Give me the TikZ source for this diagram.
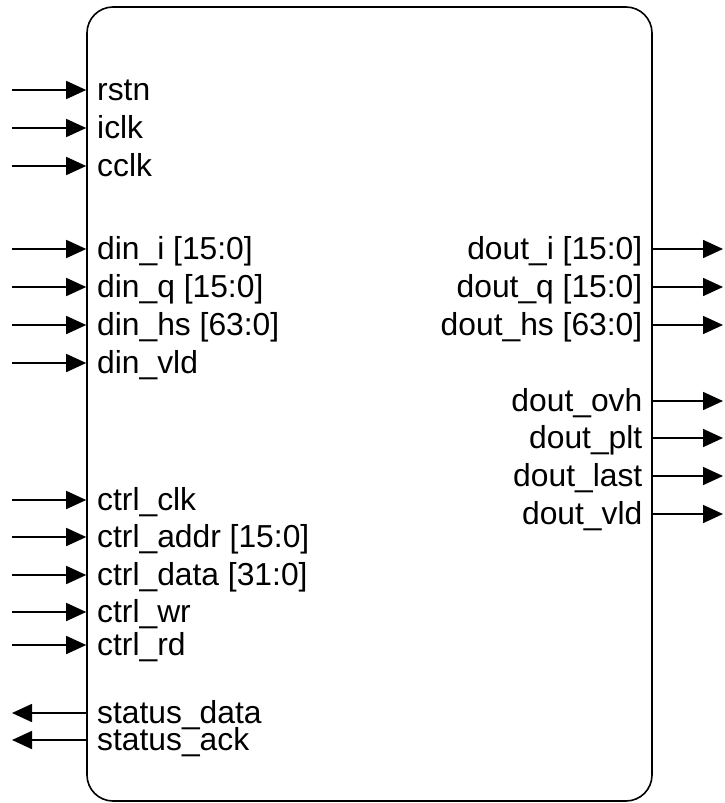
\documentclass[tikz,border=0pt]{standalone}
\usepackage{fontspec}
\setmainfont{Liberation Sans}
\usetikzlibrary{arrows.meta}
\begin{document}
\begin{tikzpicture}[x=1pt,y=-1pt,
  blockbox/.style={draw, line width=1.6pt, rounded corners=26pt, minimum width=565pt, minimum height=794pt, inner sep=0pt},
  sig/.style={line width=1.6pt, -{Triangle[length=20pt,width=18pt]}},
  inlabel/.style={anchor=base west, inner sep=0pt, font=\fontsize{31.8}{38}\selectfont},
  outlabel/.style={anchor=base east, inner sep=0pt, font=\fontsize{31.8}{38}\selectfont}]
\useasboundingbox (0,0) rectangle (724,803);
\node[blockbox] (blk) at (369.5,404) {};
% inputs on the left
\foreach \n/\y/\t in {rstn/90/rstn, iclk/128/iclk, cclk/166/cclk,
  dini/249/{din\_i [15:0]}, dinq/287/{din\_q [15:0]}, dinhs/325/{din\_hs [63:0]}, dinvld/363/{din\_vld},
  ctrlclk/500/{ctrl\_clk}, ctrladdr/537/{ctrl\_addr [15:0]}, ctrldata/575/{ctrl\_data [31:0]},
  ctrlwr/612/{ctrl\_wr}, ctrlrd/645/{ctrl\_rd}} {
  \coordinate (\n-src) at (12,\y);
  \coordinate (\n-pin) at (blk.west |- \n-src);
  \node[inlabel] (\n-lbl) at (97,\y+10) {\t};
  \draw[sig] (\n-src) -- (\n-pin);
}
% status outputs on the left
\foreach \n/\y/\t in {statusdata/713/{status\_data}, statusack/740/{status\_ack}} {
  \coordinate (\n-dst) at (12,\y);
  \coordinate (\n-pin) at (blk.west |- \n-dst);
  \node[inlabel] (\n-lbl) at (97,\y+10) {\t};
  \draw[sig] (\n-pin) -- (\n-dst);
}
% outputs on the right
\foreach \n/\y/\t in {douti/249/{dout\_i [15:0]}, doutq/287/{dout\_q [15:0]}, douths/325/{dout\_hs [63:0]},
  doutovh/401/{dout\_ovh}, doutplt/438/{dout\_plt}, doutlast/476/{dout\_last}, doutvld/514/{dout\_vld}} {
  \coordinate (\n-dst) at (723,\y);
  \coordinate (\n-pin) at (blk.east |- \n-dst);
  \node[outlabel] (\n-lbl) at (642.5,\y+10) {\t};
  \draw[sig] (\n-pin) -- (\n-dst);
}
\end{tikzpicture}
\end{document}
